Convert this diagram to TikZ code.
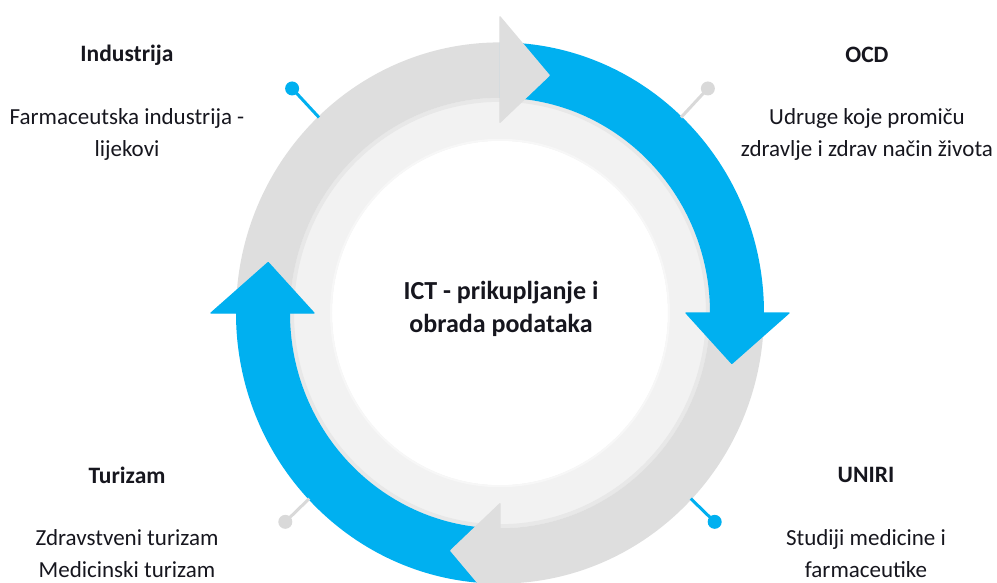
\documentclass[tikz,border=0pt]{standalone}
\usepackage{fontspec}
\setmainfont{Carlito}
\usetikzlibrary{positioning}
\definecolor{ringblue}{RGB}{0,176,240}
\definecolor{ringgray}{RGB}{222,222,222}
\definecolor{bandgray}{RGB}{242,242,242}
\definecolor{pingray}{RGB}{217,217,217}
\definecolor{txt}{RGB}{22,22,30}

\begin{document}
\begin{tikzpicture}[x=1pt,y=1pt,node distance=79pt,
		title/.style={text=txt,font=\fontsize{23.5}{28}\selectfont\bfseries},
		desc/.style={text=txt,align=center,font=\fontsize{23}{32}\selectfont},
		hub/.style={text=txt,align=center,font=\fontsize{26}{33}\selectfont\bfseries},
		bluedot/.style={circle,fill=ringblue,inner sep=0pt,minimum size=14pt},
		graydot/.style={circle,fill=pingray,inner sep=0pt,minimum size=14pt},
		pin/.style={line width=3pt},
		head/.style={line width=1.2pt,line join=round}]
	\useasboundingbox (-500,-269) rectangle (497,313);

	\begin{scope}[yscale=1.025]
		% inner disk
		\fill[bandgray] (0,0) circle[radius=212];
		\draw[black!9,line width=4pt] (0,0) circle[radius=208];
		\fill[white] (0,0) circle[radius=168];
		\draw[black!3,line width=2pt] (0,0) circle[radius=169];

		% arrow bodies
		\fill[ringgray] (180:264) arc[start angle=180,end angle=90,radius=264] -- (90:210) arc[start angle=90,end angle=180,radius=210] -- cycle;
		\fill[ringblue] (90:264) arc[start angle=90,end angle=0,radius=264] -- (0:210) arc[start angle=0,end angle=90,radius=210] -- cycle;
		\fill[ringgray] (0:264) arc[start angle=0,end angle=-90,radius=264] -- (-90:210) arc[start angle=-90,end angle=0,radius=210] -- cycle;
		\fill[ringblue] (-90:264) arc[start angle=-90,end angle=-180,radius=264] -- (-180:210) arc[start angle=-180,end angle=-90,radius=210] -- cycle;

		% arrow heads
		\filldraw[head,ringgray] (90:186) -- (90:289) -- (78:237) -- cycle;
		\filldraw[head,ringblue] (0:186) -- (0:289) -- (-12:237) -- cycle;
		\filldraw[head,ringgray] (-90:186) -- (-90:289) -- (-102:237) -- cycle;
		\filldraw[head,ringblue] (180:186) -- (180:289) -- (168:237) -- cycle;

		% pins
		\coordinate (indpin) at (133.5:263);
		\coordinate (ocdpin) at (46.5:263);
		\coordinate (unipin) at (-43.5:263);
		\coordinate (turpin) at (-136.5:263);
		\node[bluedot] (inddot) at (133.5:302) {};
		\node[graydot] (ocddot) at (46.5:302) {};
		\node[bluedot] (unidot) at (-43.5:296) {};
		\node[graydot] (turdot) at (-136.5:296) {};
		\draw[pin,ringblue] (indpin) -- (inddot.center);
		\draw[pin,pingray] (ocdpin) -- (ocddot.center);
		\draw[pin,ringblue] (unipin) -- (unidot.center);
		\draw[pin,pingray] (turpin) -- (turdot.center);
	\end{scope}

	\node[hub] (ict) at (1,4) {ICT - prikupljanje i\\obrada podataka};

	\node[title] (ind) at (-373,258) {Industrija};
	\node[desc] (indtxt) [below of=ind] {Farmaceutska industrija -\\lijekovi};
	\node[title] (ocd) at (367,258) {OCD};
	\node[desc] (ocdtxt) [below of=ocd] {Udruge koje promiču\\zdravlje i zdrav način života};
	\node[title] (tur) at (-373,-162) {Turizam};
	\node[desc] (turtxt) [below of=tur] {Zdravstveni turizam\\Medicinski turizam};
	\node[title] (uni) at (366,-162) {UNIRI};
	\node[desc] (unitxt) [below of=uni] {Studiji medicine i\\farmaceutike};
\end{tikzpicture}
\end{document}
